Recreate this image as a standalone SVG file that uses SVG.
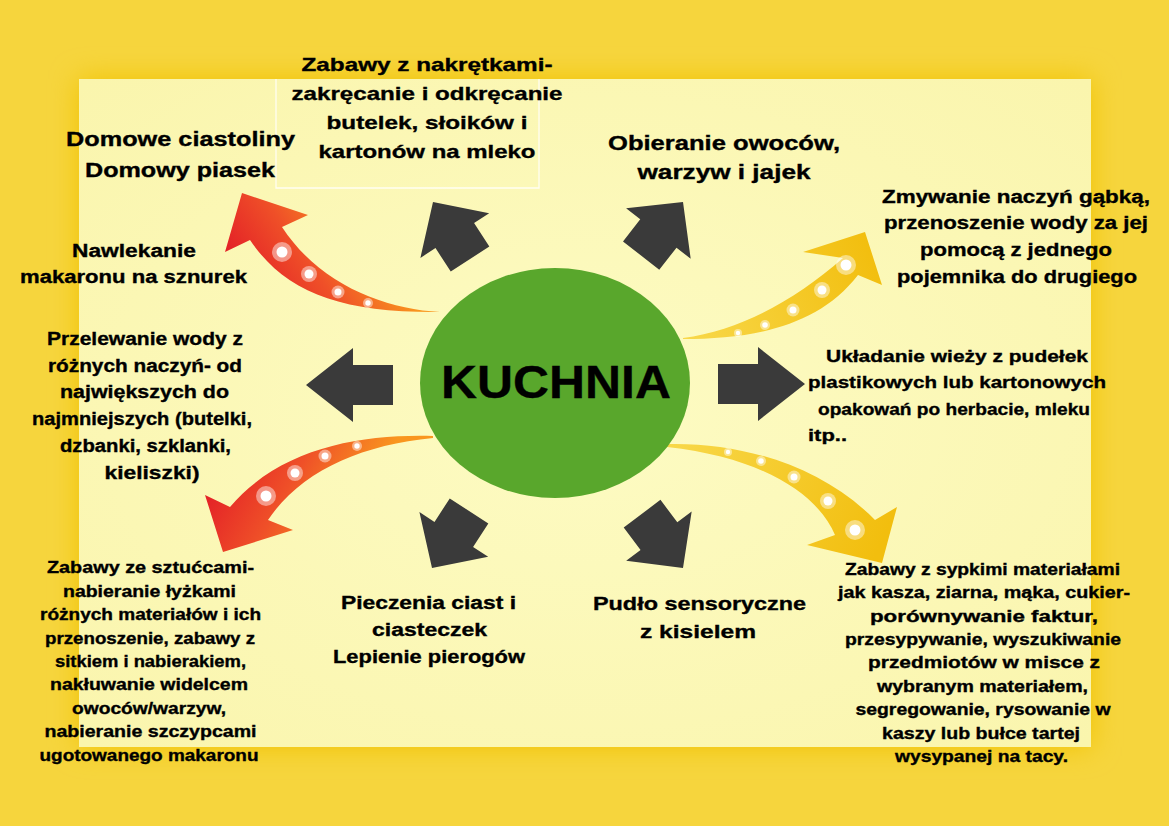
<svg xmlns="http://www.w3.org/2000/svg" width="1169" height="826" viewBox="0 0 1169 826">
<defs>
<style>
.t{font-family:"Liberation Sans",Arial,sans-serif;font-weight:bold;fill:#000;stroke:#000;stroke-width:0.35;text-anchor:middle}
.dark{fill:#3a3a3a}
.halo{fill:#ffffff;opacity:0.45}
.dot{fill:#ffffff}
</style>
<radialGradient id="bgIn" cx="0.5" cy="0.5" r="0.7">
<stop offset="0" stop-color="#fdfbc3"/>
<stop offset="1" stop-color="#faf5ad"/>
</radialGradient>
<filter id="sh" x="-10%" y="-10%" width="120%" height="120%">
<feGaussianBlur stdDeviation="14"/>
</filter>
<linearGradient id="orTL" gradientUnits="userSpaceOnUse" x1="225" y1="252" x2="330" y2="180">
<stop offset="0" stop-color="#e31f27"/>
<stop offset="0.5" stop-color="#ef5028"/>
<stop offset="1" stop-color="#f9961e"/>
</linearGradient>
<linearGradient id="orBL" gradientUnits="userSpaceOnUse" x1="205" y1="490" x2="330" y2="560">
<stop offset="0" stop-color="#e31f27"/>
<stop offset="0.5" stop-color="#ef5028"/>
<stop offset="1" stop-color="#f9961e"/>
</linearGradient>
<linearGradient id="yeTR" gradientUnits="userSpaceOnUse" x1="683" y1="338" x2="880" y2="265">
<stop offset="0" stop-color="#f8d84a"/>
<stop offset="1" stop-color="#f2be0e"/>
</linearGradient>
<linearGradient id="yeBR" gradientUnits="userSpaceOnUse" x1="667" y1="445" x2="880" y2="545">
<stop offset="0" stop-color="#f8d84a"/>
<stop offset="1" stop-color="#f2be0e"/>
</linearGradient>
<path id="arrL" d="M0,0 L-47,-37 L-47,-20 L-87,-20 L-87,20 L-47,20 L-47,37 Z"/>
<path id="arrD" d="M0,0 L-40,-41 L-40,-23 L-68,-23 L-68,23 L-40,23 L-40,41 Z"/>
</defs>

<g id="background">
<rect x="0" y="0" width="1169" height="826" fill="#f6d53d"/>
<rect x="79" y="79" width="1012" height="668" fill="#f1c20f" filter="url(#sh)"/>
<rect x="79" y="79" width="1012" height="668" fill="url(#bgIn)"/>
<path d="M276,79 L276,188 L539,188 L539,79" fill="none" stroke="#fffef2" stroke-width="1.3"/>
</g>

<g id="connectors">
<use href="#arrL" class="dark" transform="translate(306,385) rotate(180)"/>
<use href="#arrL" class="dark" transform="translate(805,384)"/>
<use href="#arrD" class="dark" transform="translate(433,202) rotate(-123)"/>
<use href="#arrD" class="dark" transform="translate(683,202) rotate(-52)"/>
<use href="#arrD" class="dark" transform="translate(432,568) rotate(123)"/>
<use href="#arrD" class="dark" transform="translate(683,568) rotate(53)"/>

<g id="curve-tl">
<path d="M440,312 C385,309 320,285 282,227 L308,215 L242,193 L225,252 L250,240 C285,292 340,313 440,312 Z" fill="url(#orTL)"/>
<circle class="halo" cx="282" cy="252" r="10"/><circle class="dot" cx="282" cy="252" r="5.5"/>
<circle class="halo" cx="309" cy="274" r="8"/><circle class="dot" cx="309" cy="274" r="4.5"/>
<circle class="halo" cx="338" cy="292" r="6.5"/><circle class="dot" cx="338" cy="292" r="3.5"/>
<circle class="halo" cx="368" cy="303" r="5"/><circle class="dot" cx="368" cy="303" r="2.7"/>
</g>
<g id="curve-bl">
<path d="M433,436 C360,434 280,448 230,507 L205,495 L223,552 L293,530 L268,520 C300,472 360,445 433,438 Z" fill="url(#orBL)"/>
<circle class="halo" cx="266" cy="496" r="10"/><circle class="dot" cx="266" cy="496" r="5.5"/>
<circle class="halo" cx="295" cy="473" r="8"/><circle class="dot" cx="295" cy="473" r="4.5"/>
<circle class="halo" cx="325" cy="456" r="6.5"/><circle class="dot" cx="325" cy="456" r="3.5"/>
<circle class="halo" cx="357" cy="446" r="5"/><circle class="dot" cx="357" cy="446" r="2.7"/>
</g>
<g id="curve-tr">
<path d="M683,338 C740,331 795,300 843,258 L803,252 L865,232 L882,285 L858,275 C818,327 752,339 683,339 Z" fill="url(#yeTR)"/>
<circle class="halo" cx="846" cy="265" r="10"/><circle class="dot" cx="846" cy="265" r="5.5"/>
<circle class="halo" cx="822" cy="290" r="8"/><circle class="dot" cx="822" cy="290" r="4.5"/>
<circle class="halo" cx="793" cy="310" r="6.5"/><circle class="dot" cx="793" cy="310" r="3.5"/>
<circle class="halo" cx="765" cy="325" r="5"/><circle class="dot" cx="765" cy="325" r="2.8"/>
<circle class="halo" cx="738" cy="333" r="4"/><circle class="dot" cx="738" cy="333" r="2.2"/>
</g>
<g id="curve-br">
<path d="M667,444 C742,442 822,466 875,520 L897,507 L882,563 L807,545 L835,535 C818,495 765,458 667,447 Z" fill="url(#yeBR)"/>
<circle class="halo" cx="728" cy="452" r="4"/><circle class="dot" cx="728" cy="452" r="2.2"/>
<circle class="halo" cx="761" cy="461" r="5"/><circle class="dot" cx="761" cy="461" r="2.8"/>
<circle class="halo" cx="794" cy="477" r="6.5"/><circle class="dot" cx="794" cy="477" r="3.5"/>
<circle class="halo" cx="828" cy="501" r="8"/><circle class="dot" cx="828" cy="501" r="4.5"/>
<circle class="halo" cx="855" cy="530" r="10"/><circle class="dot" cx="855" cy="530" r="5.5"/>
</g>
</g>

<g id="n-kuchnia">
<ellipse cx="555" cy="383" rx="135" ry="115" fill="#59a72c"/>
<text class="t" x="556" y="398" font-size="46" stroke-width="1.2" textLength="230" lengthAdjust="spacingAndGlyphs">KUCHNIA</text>
</g>

<g id="n-domowe" font-size="20">
<text class="t" x="180.5" y="146" textLength="229" lengthAdjust="spacingAndGlyphs">Domowe ciastoliny</text>
<text class="t" x="180" y="177" textLength="190" lengthAdjust="spacingAndGlyphs">Domowy piasek</text>
</g>

<g id="n-nakretki" font-size="19">
<text class="t" x="427" y="71" textLength="251" lengthAdjust="spacingAndGlyphs">Zabawy z nakrętkami-</text>
<text class="t" x="427" y="100" textLength="271" lengthAdjust="spacingAndGlyphs">zakręcanie i odkręcanie</text>
<text class="t" x="427" y="129" textLength="201" lengthAdjust="spacingAndGlyphs">butelek, słoików i</text>
<text class="t" x="427" y="158" textLength="217" lengthAdjust="spacingAndGlyphs">kartonów na mleko</text>
</g>

<g id="n-obieranie" font-size="20">
<text class="t" x="724" y="150" textLength="232" lengthAdjust="spacingAndGlyphs">Obieranie owoców,</text>
<text class="t" x="724" y="179" textLength="173" lengthAdjust="spacingAndGlyphs">warzyw i jajek</text>
</g>

<g id="n-zmywanie" font-size="18">
<text class="t" x="1016" y="203" textLength="268" lengthAdjust="spacingAndGlyphs">Zmywanie naczyń gąbką,</text>
<text class="t" x="1016" y="229" textLength="264" lengthAdjust="spacingAndGlyphs">przenoszenie wody za jej</text>
<text class="t" x="1016" y="256" textLength="192" lengthAdjust="spacingAndGlyphs">pomocą z jednego</text>
<text class="t" x="1017" y="283" textLength="240" lengthAdjust="spacingAndGlyphs">pojemnika do drugiego</text>
</g>

<g id="n-nawlekanie" font-size="18">
<text class="t" x="134" y="257" textLength="124" lengthAdjust="spacingAndGlyphs">Nawlekanie</text>
<text class="t" x="133.5" y="283" textLength="227" lengthAdjust="spacingAndGlyphs">makaronu na sznurek</text>
</g>

<g id="n-przelewanie" font-size="18">
<text class="t" x="145" y="345" textLength="196" lengthAdjust="spacingAndGlyphs">Przelewanie wody z</text>
<text class="t" x="145" y="372" textLength="194" lengthAdjust="spacingAndGlyphs">różnych naczyń- od</text>
<text class="t" x="144.5" y="398" textLength="169" lengthAdjust="spacingAndGlyphs">największych do</text>
<text class="t" x="142" y="425" textLength="220" lengthAdjust="spacingAndGlyphs">najmniejszych (butelki,</text>
<text class="t" x="145.5" y="452" textLength="171" lengthAdjust="spacingAndGlyphs">dzbanki, szklanki,</text>
<text class="t" x="152" y="479" textLength="95" lengthAdjust="spacingAndGlyphs">kieliszki)</text>
</g>

<g id="n-ukladanie" font-size="17">
<text class="t" x="957" y="362" textLength="262" lengthAdjust="spacingAndGlyphs">Układanie wieży z pudełek</text>
<text class="t" x="957" y="388" textLength="298" lengthAdjust="spacingAndGlyphs">plastikowych lub kartonowych</text>
<text class="t" x="954" y="415" textLength="272" lengthAdjust="spacingAndGlyphs">opakowań po herbacie, mleku</text>
<text class="t" x="827.5" y="441" textLength="39" lengthAdjust="spacingAndGlyphs">itp..</text>
</g>

<g id="n-sztucce" font-size="16">
<text class="t" x="150.5" y="573" textLength="207" lengthAdjust="spacingAndGlyphs">Zabawy ze sztućcami-</text>
<text class="t" x="149.5" y="597" textLength="173" lengthAdjust="spacingAndGlyphs">nabieranie łyżkami</text>
<text class="t" x="150.5" y="620" textLength="221" lengthAdjust="spacingAndGlyphs">różnych materiałów i ich</text>
<text class="t" x="150" y="644" textLength="210" lengthAdjust="spacingAndGlyphs">przenoszenie, zabawy z</text>
<text class="t" x="150.5" y="667" textLength="191" lengthAdjust="spacingAndGlyphs">sitkiem i nabierakiem,</text>
<text class="t" x="149" y="690" textLength="198" lengthAdjust="spacingAndGlyphs">nakłuwanie widelcem</text>
<text class="t" x="149" y="714" textLength="154" lengthAdjust="spacingAndGlyphs">owoców/warzyw,</text>
<text class="t" x="150.5" y="737" textLength="212" lengthAdjust="spacingAndGlyphs">nabieranie szczypcami</text>
<text class="t" x="149" y="761" textLength="219" lengthAdjust="spacingAndGlyphs">ugotowanego makaronu</text>
</g>

<g id="n-pieczenie" font-size="18">
<text class="t" x="428.5" y="609" textLength="175" lengthAdjust="spacingAndGlyphs">Pieczenia ciast i</text>
<text class="t" x="429.5" y="636" textLength="115" lengthAdjust="spacingAndGlyphs">ciasteczek</text>
<text class="t" x="429" y="663" textLength="192" lengthAdjust="spacingAndGlyphs">Lepienie pierogów</text>
</g>

<g id="n-pudlo" font-size="19">
<text class="t" x="699.5" y="610" textLength="213" lengthAdjust="spacingAndGlyphs">Pudło sensoryczne</text>
<text class="t" x="698" y="638" textLength="116" lengthAdjust="spacingAndGlyphs">z kisielem</text>
</g>

<g id="n-sypkie" font-size="16">
<text class="t" x="982.5" y="575" textLength="275" lengthAdjust="spacingAndGlyphs">Zabawy z sypkimi materiałami</text>
<text class="t" x="984" y="598" textLength="292" lengthAdjust="spacingAndGlyphs">jak kasza, ziarna, mąka, cukier-</text>
<text class="t" x="984" y="622" textLength="228" lengthAdjust="spacingAndGlyphs">porównywanie faktur,</text>
<text class="t" x="983" y="645" textLength="276" lengthAdjust="spacingAndGlyphs">przesypywanie, wyszukiwanie</text>
<text class="t" x="984" y="668" textLength="232" lengthAdjust="spacingAndGlyphs">przedmiotów w misce z</text>
<text class="t" x="982.5" y="692" textLength="211" lengthAdjust="spacingAndGlyphs">wybranym materiałem,</text>
<text class="t" x="983" y="715" textLength="255" lengthAdjust="spacingAndGlyphs">segregowanie, rysowanie w</text>
<text class="t" x="981" y="739" textLength="198" lengthAdjust="spacingAndGlyphs">kaszy lub bułce tartej</text>
<text class="t" x="981.5" y="762" textLength="173" lengthAdjust="spacingAndGlyphs">wysypanej na tacy.</text>
</g>
</svg>
